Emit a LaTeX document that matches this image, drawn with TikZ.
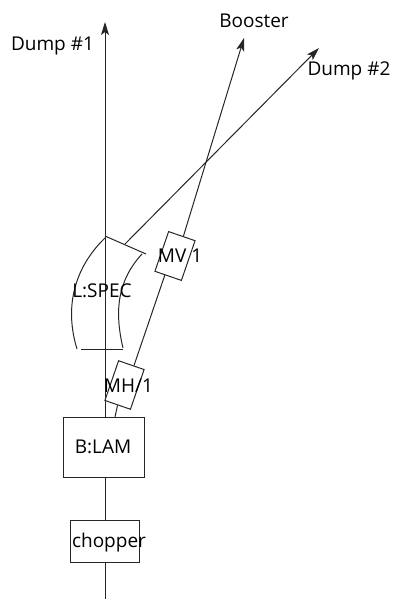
\documentclass[tikz,border=0pt]{standalone}
\usepackage{fontspec}
\setmainfont{Open Sans}
\usetikzlibrary{arrows.meta,backgrounds}
\tikzset{
  beam/.style={draw=black!85,line width=1pt},
  tip/.style={-{Stealth[length=13pt,width=8pt,inset=3pt]}},
  box/.style={draw=black!85,line width=1pt,fill=white,inner sep=0pt,minimum width=#1},
  lab/.style={inner sep=0pt,font=\fontsize{19}{22}\selectfont,text=black},
}
\begin{document}
\begin{tikzpicture}[x=1pt,y=-1pt]
\useasboundingbox (0,0) rectangle (393,599);
% boxes
\node[box=81pt,minimum height=60pt] (blam) at (103.5,447) {};
\node[box=69pt,minimum height=42pt] (chop) at (104.5,541) {};
\node[box=27pt,minimum height=42pt,rotate=-19] (mh) at (124.5,385) {};
\node[box=28pt,minimum height=42pt,rotate=-19] (mv) at (175,256) {};
% free ends
\coordinate (bot) at (105,599);
\coordinate (d1) at (105,22);
\coordinate (bo) at (115,417);
\coordinate (bt) at (244,38);
\coordinate (ds) at (125,244);
\coordinate (dt) at (319,48);
\coordinate (ma) at (105,236);
\coordinate (mb) at (146,254);
\coordinate (mc) at (81,349);
\coordinate (md) at (123,349);
\coordinate (al) at (105,238);
\coordinate (all) at (77,349);
\coordinate (ar) at (142,254);
\coordinate (arr) at (123,348);
\begin{scope}[on background layer]
\draw[beam] (bot) -- (chop.south -| bot);
\draw[beam] (chop.north -| bot) -- (blam.south -| bot);
\draw[beam,tip] (blam.north -| bot) -- (d1);
\draw[beam] (bo) -- (mh.south);
\draw[beam] (mh.83) -- (mv.261);
\draw[beam,tip] (mv.86) -- (bt);
\draw[beam,tip] (ds) -- (dt);
\end{scope}
% magnet
\draw[beam] (ma) -- (mb);
\draw[beam] (mc) -- (md);
\draw[beam] (al) .. controls (80,262) and (62,300) .. (all);
\draw[beam] (ar) .. controls (118,280) and (114,310) .. (arr);
% labels
\node[lab] (t1) at (52.5,46) {Dump \#1};
\node[lab] (t2) at (254,21) {Booster};
\node[lab] (t3) at (349,71) {Dump \#2};
\node[lab] (t4) at (102,291) {L:SPEC};
\node[lab] (t5) at (180,256) {MV 1};
\node[lab] (t6) at (128.5,386) {MH/1};
\node[lab] (t7) at (103,447) {B:LAM};
\node[lab] (t8) at (109,543) {chopper};
\end{tikzpicture}
\end{document}
